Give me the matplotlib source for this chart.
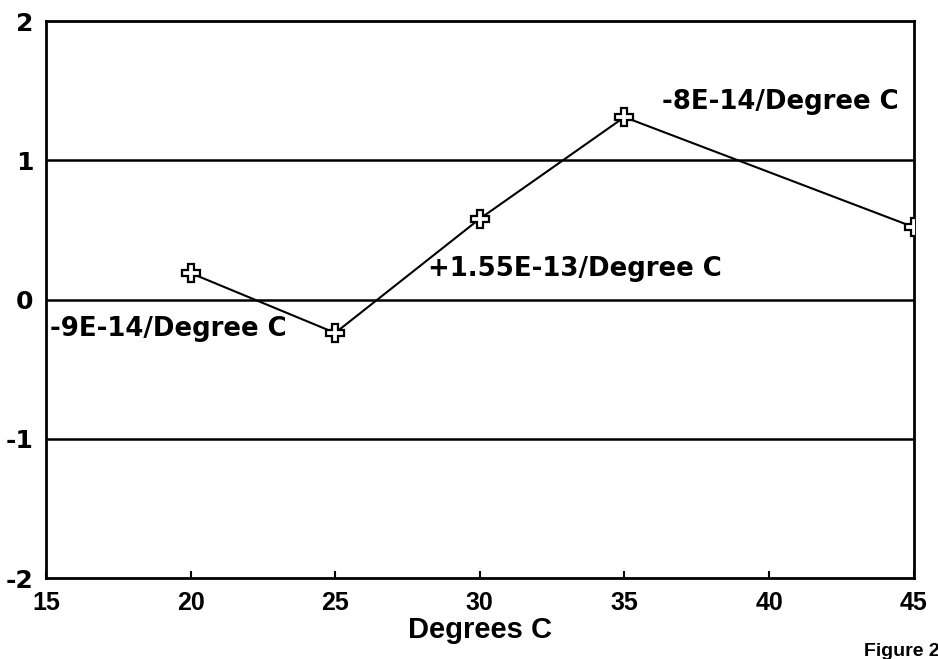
import matplotlib
matplotlib.use("Agg")
import matplotlib.pyplot as plt
from matplotlib import font_manager

# Measured offsets against temperature
temps = [20, 25, 30, 35, 45]
offsets = [0.19, -0.24, 0.58, 1.31, 0.52]

x_ticks = [15, 20, 25, 30, 35, 40, 45]
y_ticks = [-2, -1, 0, 1, 2]
y_tick_labels = ["-2", "-1", "0", "1", "2"]
grid_levels = [-1, 0, 1]

slope_labels = ["-9E-14/Degree C", "+1.55E-13/Degree C", "-8E-14/Degree C"]
slope_label_pos = [(15.15, -0.21), (28.2, 0.22), (36.3, 1.42)]


def pick(families):
    names = {f.name for f in font_manager.fontManager.ttflist}
    for fam in families:
        if fam in names:
            return fam
    return "DejaVu Sans"


narrow = pick(["Liberation Sans Narrow", "Liberation Sans"])
wide = "DejaVu Sans"

fig = plt.figure(figsize=(9.38, 6.59), dpi=100)
ax = fig.add_axes([0.049, 0.1229, 0.925, 0.8452])

for lvl in grid_levels:
    ax.axhline(lvl, color="black", lw=1.8, zorder=1)

ax.plot(temps, offsets, color="black", lw=1.5, zorder=2)
ax.plot(temps, offsets, linestyle="none", marker="P", markersize=13,
        markerfacecolor="white", markeredgecolor="black",
        markeredgewidth=1.6, zorder=3)

ax.set_xlim(15, 45)
ax.set_ylim(-2, 2)

ax.set_xticks(x_ticks)
ax.set_xticklabels([str(t) for t in x_ticks], fontfamily=narrow,
                   fontweight="bold", fontsize=18)
ax.set_yticks(y_ticks)
ax.set_yticklabels(y_tick_labels, fontfamily=wide, fontweight="bold",
                   fontsize=18)
ax.tick_params(axis="x", direction="in", length=5, width=1.5, pad=9)
ax.tick_params(axis="y", length=0, pad=9)

for sp in ax.spines.values():
    sp.set_linewidth(2)

ax.set_xlabel("Degrees C", fontfamily=narrow, fontweight="bold",
              fontsize=21, labelpad=1)

for txt, (tx, ty) in zip(slope_labels, slope_label_pos):
    ax.text(tx, ty, txt, fontfamily=wide, fontweight="bold", fontsize=18.7,
            ha="left", va="center", zorder=4)

fig.text(864 / 938, 1 - 651 / 659, "Figure 2", fontfamily=narrow,
         fontweight="bold", fontsize=14, ha="left", va="center")

fig.savefig("out.png", dpi=100)
